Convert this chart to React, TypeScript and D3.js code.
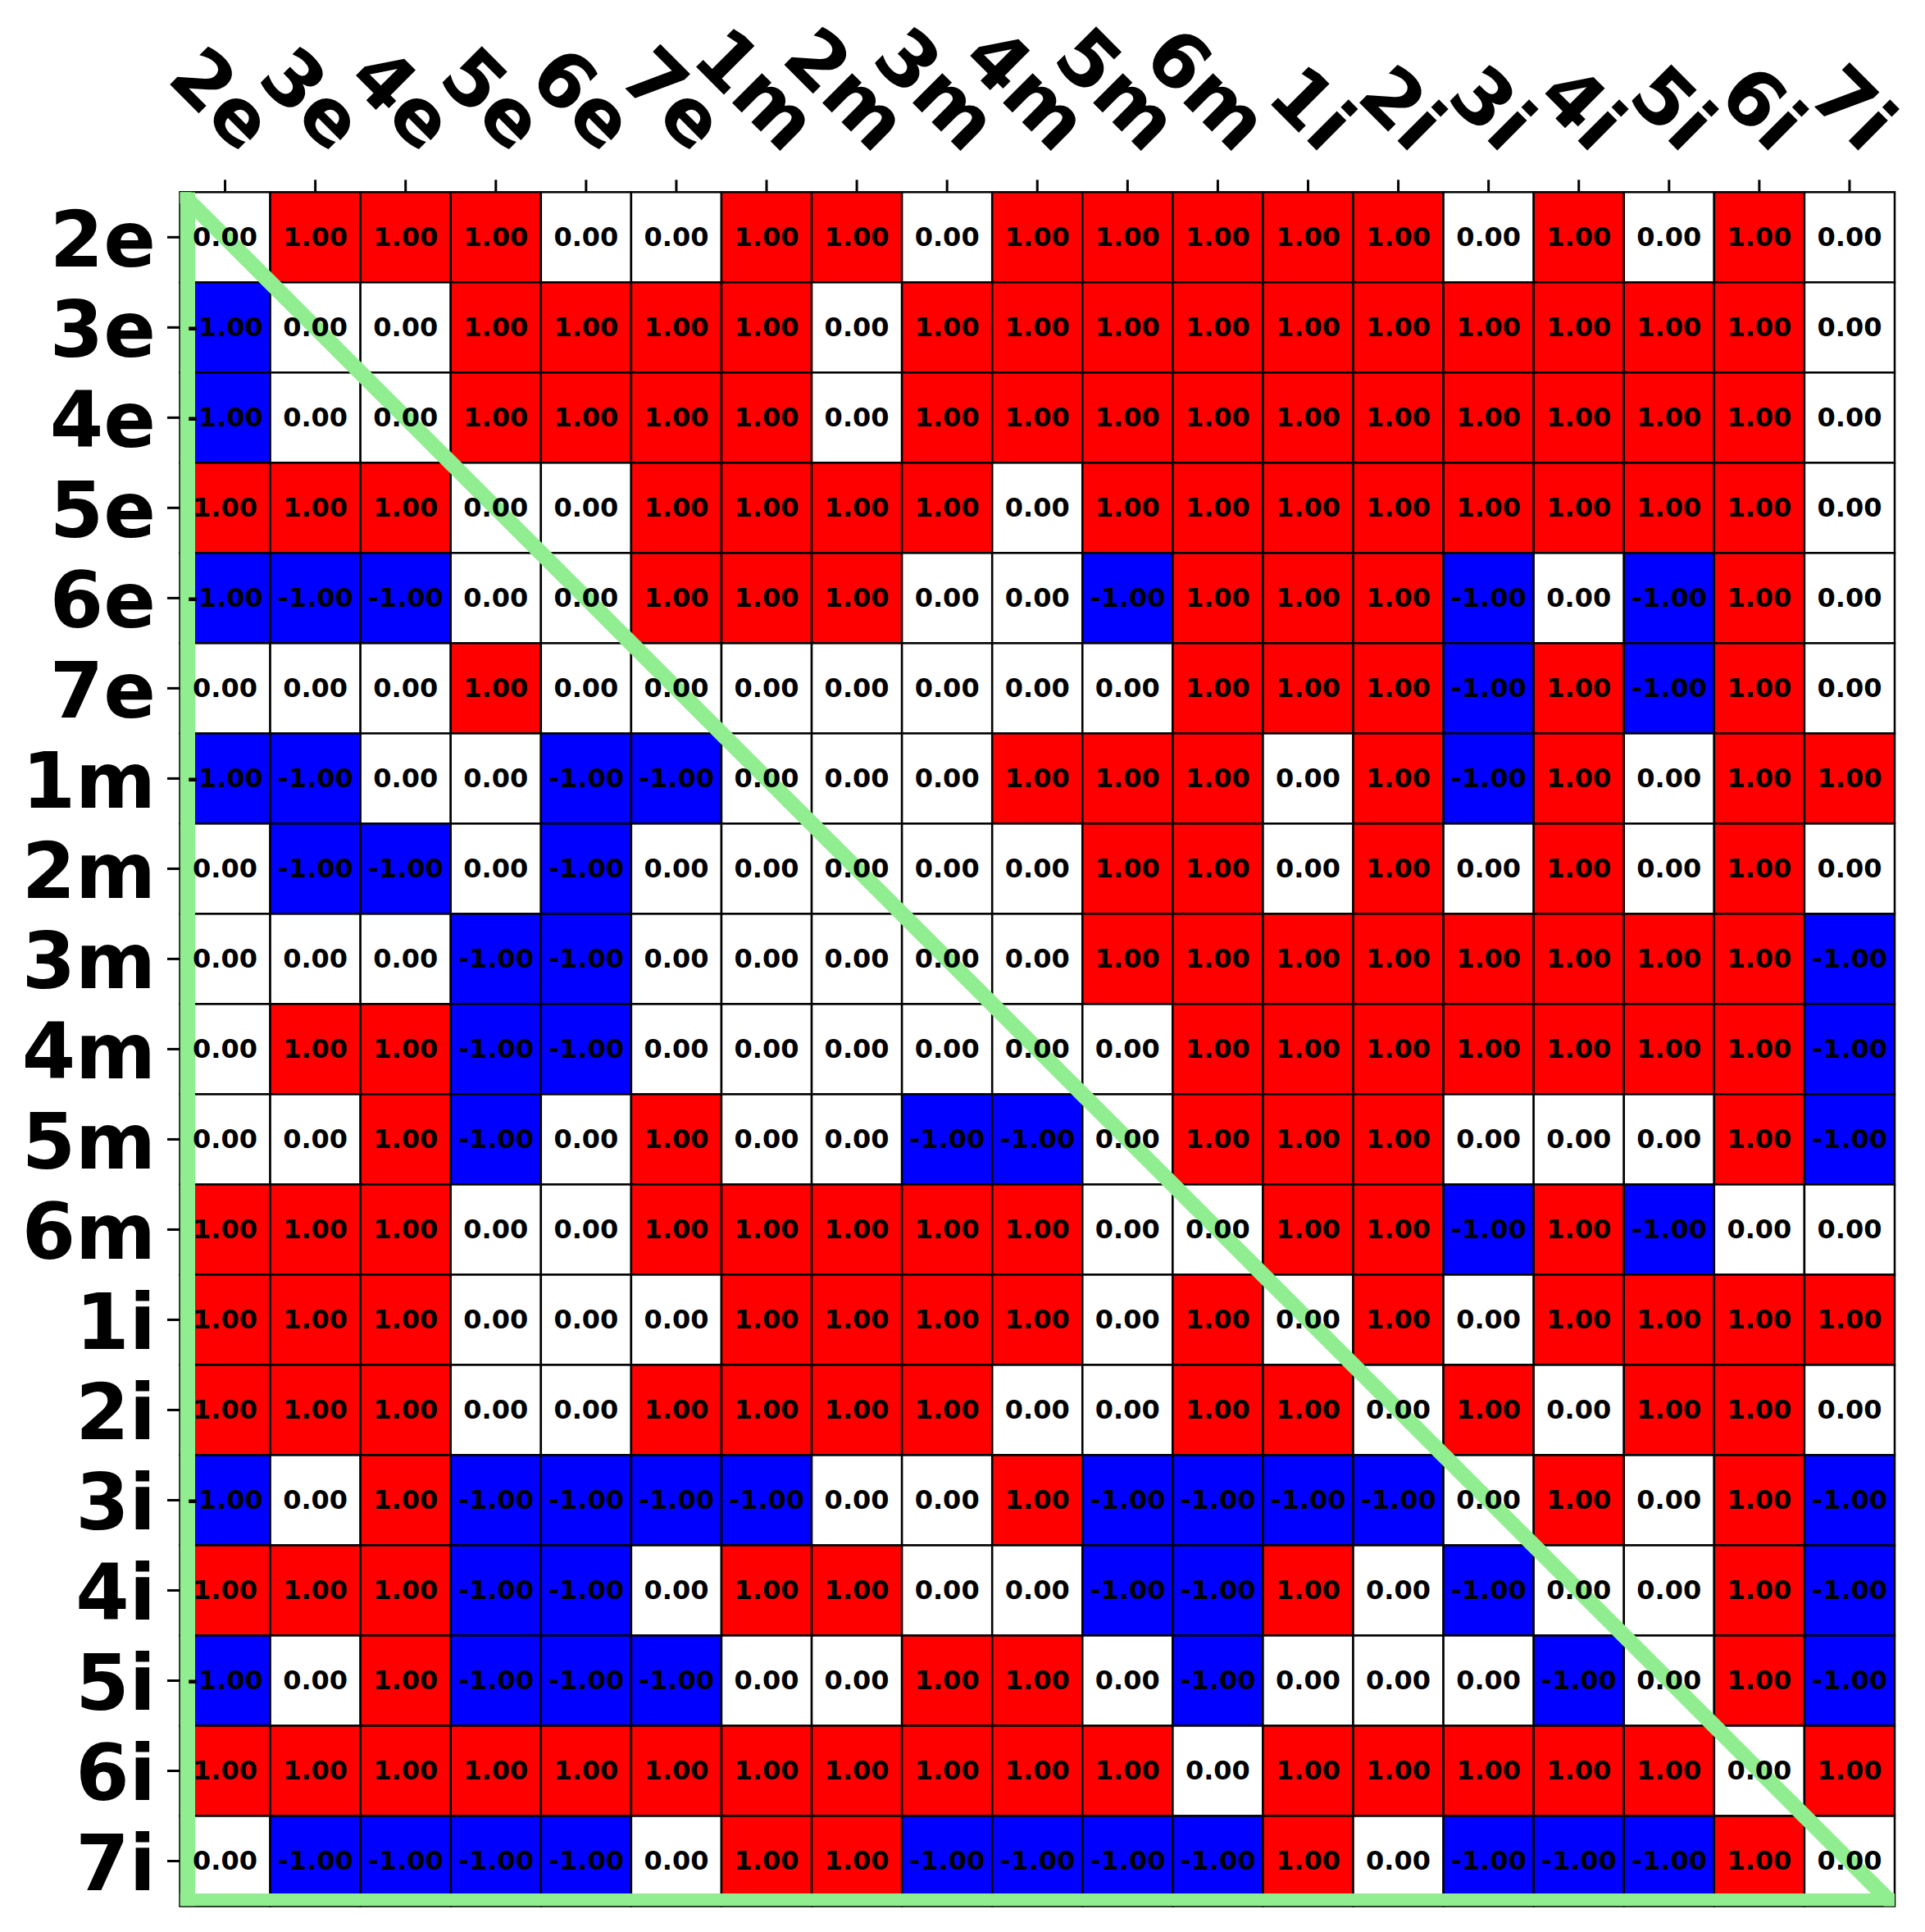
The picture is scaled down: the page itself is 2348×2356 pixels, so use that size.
import React from 'react'
import * as d3 from 'd3'

const labels = ['2e', '3e', '4e', '5e', '6e', '7e', '1m', '2m', '3m', '4m', '5m', '6m', '1i', '2i', '3i', '4i', '5i', '6i', '7i']

// one row per label, columns in the same order
const values = [
  [0, 1, 1, 1, 0, 0, 1, 1, 0, 1, 1, 1, 1, 1, 0, 1, 0, 1, 0],
  [-1, 0, 0, 1, 1, 1, 1, 0, 1, 1, 1, 1, 1, 1, 1, 1, 1, 1, 0],
  [-1, 0, 0, 1, 1, 1, 1, 0, 1, 1, 1, 1, 1, 1, 1, 1, 1, 1, 0],
  [1, 1, 1, 0, 0, 1, 1, 1, 1, 0, 1, 1, 1, 1, 1, 1, 1, 1, 0],
  [-1, -1, -1, 0, 0, 1, 1, 1, 0, 0, -1, 1, 1, 1, -1, 0, -1, 1, 0],
  [0, 0, 0, 1, 0, 0, 0, 0, 0, 0, 0, 1, 1, 1, -1, 1, -1, 1, 0],
  [-1, -1, 0, 0, -1, -1, 0, 0, 0, 1, 1, 1, 0, 1, -1, 1, 0, 1, 1],
  [0, -1, -1, 0, -1, 0, 0, 0, 0, 0, 1, 1, 0, 1, 0, 1, 0, 1, 0],
  [0, 0, 0, -1, -1, 0, 0, 0, 0, 0, 1, 1, 1, 1, 1, 1, 1, 1, -1],
  [0, 1, 1, -1, -1, 0, 0, 0, 0, 0, 0, 1, 1, 1, 1, 1, 1, 1, -1],
  [0, 0, 1, -1, 0, 1, 0, 0, -1, -1, 0, 1, 1, 1, 0, 0, 0, 1, -1],
  [1, 1, 1, 0, 0, 1, 1, 1, 1, 1, 0, 0, 1, 1, -1, 1, -1, 0, 0],
  [1, 1, 1, 0, 0, 0, 1, 1, 1, 1, 0, 1, 0, 1, 0, 1, 1, 1, 1],
  [1, 1, 1, 0, 0, 1, 1, 1, 1, 0, 0, 1, 1, 0, 1, 0, 1, 1, 0],
  [-1, 0, 1, -1, -1, -1, -1, 0, 0, 1, -1, -1, -1, -1, 0, 1, 0, 1, -1],
  [1, 1, 1, -1, -1, 0, 1, 1, 0, 0, -1, -1, 1, 0, -1, 0, 0, 1, -1],
  [-1, 0, 1, -1, -1, -1, 0, 0, 1, 1, 0, -1, 0, 0, 0, -1, 0, 1, -1],
  [1, 1, 1, 1, 1, 1, 1, 1, 1, 1, 1, 0, 1, 1, 1, 1, 1, 0, 1],
  [0, -1, -1, -1, -1, 0, 1, 1, -1, -1, -1, -1, 1, 0, -1, -1, -1, 1, 0],
]

const FONT = '"DejaVu Sans", sans-serif'
// rough DejaVu Sans Bold advance widths (em) for the label glyphs
const adv: Record<string, number> = { e: 0.678, m: 1.042, i: 0.343 }
const textWidth = (s: string, fs: number) =>
  s.split('').reduce((t, c) => t + (adv[c] ?? 0.696), 0) * fs

export default function App() {
  const W = 2348
  const H = 2356
  const left = 219.5, right = 2311, top = 234.3, bottom = 2324.5

  const x = d3.scaleBand<string>().domain(labels).range([left, right])
  const y = d3.scaleBand<string>().domain(labels).range([top, bottom])
  const color = d3.scaleLinear<string>().domain([-1, 0, 1]).range(['#0000ff', '#ffffff', '#ff0000'])
  const fmt = d3.formatLocale({ decimal: '.', thousands: ',', grouping: [3], currency: ['', ''], minus: '-' }).format('.2f')

  const bw = x.bandwidth()
  const bh = y.bandwidth()
  const labelFs = 94
  const asc = 0.76 * labelFs
  const desc = 0.208 * labelFs
  const k = Math.SQRT1_2

  const cells = values.flatMap((row, i) => row.map((v, j) => ({ r: labels[i], c: labels[j], v })))

  return (
    <svg width={W} height={H} style={{ position: 'absolute', left: 0, top: 0, background: '#fff' }}
      fontFamily={FONT}>
      <defs>
        <clipPath id="axclip">
          <rect x={left} y={top} width={right - left} height={bottom - top} />
        </clipPath>
      </defs>
      <rect width={W} height={H} fill="#fff" />

      {cells.map((d, idx) => (
        <rect key={idx} x={x(d.c)} y={y(d.r)} width={bw} height={bh}
          fill={color(d.v)} stroke="#000" strokeWidth={2.5} />
      ))}

      {/* green triangle */}
      <g clipPath="url(#axclip)" fill="#90ee90">
        <rect x={left} y={top} width={18.5} height={bottom - top} />
        <rect x={left} y={bottom - 15.5} width={right - left} height={15.5} />
        <line x1={left} y1={top} x2={right} y2={bottom} stroke="#90ee90" strokeWidth={19} />
      </g>

      {cells.map((d, idx) => (
        <text key={'t' + idx} x={x(d.c)! + bw / 2} y={y(d.r)! + bh / 2 + 10.5}
          textAnchor="middle" fontSize={32} fontWeight="bold" fill="#000">
          {fmt(d.v)}
        </text>
      ))}

      {/* top axis */}
      {labels.map(l => {
        const cx = x(l)! + bw / 2
        const w = textWidth(l, labelFs)
        const sx = cx - k * (w + asc - desc) / 2 - 0.27 * (w - 97.7)
        const sy = 203 - k * (w + desc)
        return (
          <g key={'x' + l}>
            <line x1={cx} x2={cx} y1={top - 15} y2={top} stroke="#000" strokeWidth={3} />
            <text transform={`translate(${sx},${sy}) rotate(45)`} fontSize={labelFs} fontWeight="bold">{l}</text>
          </g>
        )
      })}

      {/* left axis */}
      {labels.map(l => {
        const cy = y(l)! + bh / 2
        return (
          <g key={'y' + l}>
            <line x1={left - 15.5} x2={left} y1={cy} y2={cy} stroke="#000" strokeWidth={3} />
            <text x={190} y={cy + 36} textAnchor="end" fontSize={labelFs} fontWeight="bold">{l}</text>
          </g>
        )
      })}
    </svg>
  )
}
